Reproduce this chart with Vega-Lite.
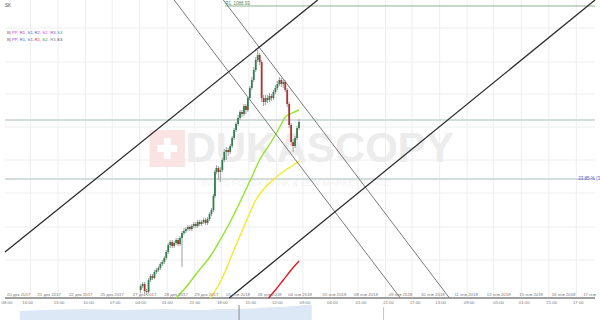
{
"$schema":"https://vega.github.io/schema/vega-lite/v6.json",
"width":600,"height":320,"autosize":{"type":"none"},"padding":0,"background":"#ffffff",
"config":{"view":{"stroke":null},"font":"Liberation Sans"},
"resolve":{"scale":{"color":"independent"}},
"datasets":{
"vgrid":[{"t":26},{"t":54},{"t":82},{"t":109},{"t":137},{"t":165},{"t":193},{"t":220},{"t":248},{"t":276},{"t":303},{"t":331},{"t":359},{"t":387},{"t":414},{"t":442},{"t":470},{"t":497},{"t":525},{"t":553},{"t":581}],
"hgrid":[{"v":292},{"v":258},{"v":226},{"v":193},{"v":160},{"v":127},{"v":93},{"v":60}],
"levels":[{"t":0,"t2":600,"v":200},{"t":0,"t2":600,"v":141}],
"r1":[{"t":224,"t2":600,"v":314}],
"logo":[{"t":147,"t2":183,"v":153,"v2":190}],
"cross":[{"t":155,"t2":175,"v":168,"v2":175},{"t":161.5,"t2":168.5,"v":161,"v2":182}],
"volume":[{"t":15,"v":9},{"t":40,"v":10},{"t":60,"v":10.5},{"t":80,"v":11},{"t":100,"v":10.5},{"t":120,"v":10},{"t":140,"v":10.5},{"t":160,"v":11},{"t":180,"v":10.5},{"t":200,"v":10},{"t":220,"v":11},{"t":238,"v":11},{"t":250,"v":11.5},{"t":265,"v":12.5},{"t":280,"v":13},{"t":295,"v":14},{"t":305,"v":15},{"t":312,"v":15.5}],
"vollines":[{"t":238,"v":0,"v2":15,"k":"a"},{"t":385,"v":0,"v2":13,"k":"b"}],
"ma":[
{"id":"MA1","t":174,"v":22},{"id":"MA1","t":185,"v":34},{"id":"MA1","t":196,"v":48},{"id":"MA1","t":209,"v":64},{"id":"MA1","t":220,"v":82},{"id":"MA1","t":230,"v":100},{"id":"MA1","t":240,"v":120},{"id":"MA1","t":250,"v":141},{"id":"MA1","t":260,"v":162},{"id":"MA1","t":270,"v":177},{"id":"MA1","t":280,"v":194},{"id":"MA1","t":285,"v":203},{"id":"MA1","t":290,"v":206},{"id":"MA1","t":299,"v":210},
{"id":"MA2","t":209,"v":22},{"id":"MA2","t":220,"v":40},{"id":"MA2","t":232,"v":68},{"id":"MA2","t":245,"v":98},{"id":"MA2","t":255,"v":120},{"id":"MA2","t":265,"v":133},{"id":"MA2","t":275,"v":142},{"id":"MA2","t":285,"v":150},{"id":"MA2","t":292,"v":154},{"id":"MA2","t":299,"v":159},
{"id":"MA3","t":268,"v":22},{"id":"MA3","t":275,"v":30},{"id":"MA3","t":283,"v":40},{"id":"MA3","t":291,"v":50},{"id":"MA3","t":299,"v":59}],
"channel":[{"id":"C","t":172,"v":320},{"id":"C","t":402,"v":22},{"id":"D","t":222,"v":320},{"id":"D","t":452,"v":22}],
"trend":[{"id":"A","t":0,"v":68},{"id":"A","t":318,"v":320},{"id":"B","t":228,"v":22},{"id":"B","t":600,"v":320}],
"candles":[
{"t":138,"o":30,"c":34,"h":36,"l":27,"d":"u"},{"t":140,"o":34,"c":36,"h":38,"l":32,"d":"u"},{"t":142,"o":36,"c":29,"h":38,"l":26,"d":"d"},{"t":144,"o":29,"c":28,"h":31,"l":25,"d":"d"},{"t":146,"o":28,"c":40,"h":42,"l":27,"d":"u"},{"t":148,"o":40,"c":44,"h":46,"l":38,"d":"u"},{"t":150,"o":44,"c":42,"h":46,"l":40,"d":"d"},{"t":152,"o":42,"c":48,"h":50,"l":41,"d":"u"},{"t":154,"o":48,"c":50,"h":52,"l":46,"d":"u"},{"t":156,"o":50,"c":52,"h":54,"l":48,"d":"u"},{"t":158,"o":52,"c":56,"h":58,"l":50,"d":"u"},{"t":160,"o":56,"c":58,"h":60,"l":54,"d":"u"},{"t":162,"o":58,"c":62,"h":64,"l":56,"d":"u"},{"t":164,"o":62,"c":68,"h":70,"l":60,"d":"u"},{"t":166,"o":68,"c":75,"h":77,"l":66,"d":"u"},{"t":168,"o":75,"c":78,"h":80,"l":72,"d":"u"},{"t":170,"o":78,"c":74,"h":80,"l":72,"d":"d"},{"t":172,"o":74,"c":77,"h":79,"l":72,"d":"u"},{"t":174,"o":77,"c":80,"h":82,"l":75,"d":"u"},{"t":176,"o":80,"c":76,"h":82,"l":74,"d":"d"},{"t":178,"o":76,"c":82,"h":84,"l":74,"d":"u"},{"t":180,"o":82,"c":87,"h":89,"l":53,"d":"u"},{"t":182,"o":87,"c":89,"h":92,"l":85,"d":"u"},{"t":184,"o":89,"c":91,"h":93,"l":87,"d":"u"},{"t":186,"o":91,"c":93,"h":95,"l":89,"d":"u"},{"t":188,"o":93,"c":91,"h":95,"l":89,"d":"d"},{"t":190,"o":91,"c":94,"h":96,"l":89,"d":"u"},{"t":192,"o":94,"c":96,"h":98,"l":92,"d":"u"},{"t":194,"o":96,"c":94,"h":98,"l":92,"d":"d"},{"t":196,"o":94,"c":98,"h":100,"l":92,"d":"u"},{"t":198,"o":98,"c":96,"h":100,"l":94,"d":"d"},{"t":200,"o":96,"c":98,"h":100,"l":94,"d":"u"},{"t":202,"o":98,"c":100,"h":102,"l":96,"d":"u"},{"t":204,"o":100,"c":97,"h":102,"l":95,"d":"d"},{"t":206,"o":97,"c":101,"h":103,"l":95,"d":"u"},{"t":208,"o":101,"c":106,"h":108,"l":99,"d":"u"},{"t":210,"o":106,"c":110,"h":112,"l":104,"d":"u"},{"t":212,"o":110,"c":124,"h":126,"l":108,"d":"u"},{"t":213.5,"o":124,"c":148,"h":150,"l":122,"d":"u"},{"t":215,"o":148,"c":152,"h":155,"l":146,"d":"u"},{"t":217,"o":152,"c":148,"h":154,"l":140,"d":"d"},{"t":219,"o":148,"c":150,"h":153,"l":138,"d":"u"},{"t":221,"o":150,"c":160,"h":162,"l":148,"d":"u"},{"t":223,"o":160,"c":168,"h":171,"l":158,"d":"u"},{"t":225,"o":168,"c":170,"h":173,"l":160,"d":"u"},{"t":227,"o":170,"c":168,"h":172,"l":164,"d":"d"},{"t":229,"o":168,"c":174,"h":176,"l":166,"d":"u"},{"t":231,"o":174,"c":182,"h":184,"l":172,"d":"u"},{"t":233,"o":182,"c":190,"h":192,"l":180,"d":"u"},{"t":235,"o":190,"c":196,"h":198,"l":188,"d":"u"},{"t":237,"o":196,"c":202,"h":205,"l":194,"d":"u"},{"t":239,"o":202,"c":208,"h":210,"l":200,"d":"u"},{"t":241,"o":208,"c":206,"h":210,"l":203,"d":"d"},{"t":243,"o":206,"c":214,"h":216,"l":204,"d":"u"},{"t":245,"o":214,"c":210,"h":216,"l":206,"d":"d"},{"t":247,"o":210,"c":222,"h":224,"l":208,"d":"u"},{"t":249,"o":222,"c":232,"h":234,"l":220,"d":"u"},{"t":251,"o":232,"c":240,"h":243,"l":230,"d":"u"},{"t":253,"o":240,"c":250,"h":253,"l":238,"d":"u"},{"t":255,"o":250,"c":260,"h":263,"l":248,"d":"u"},{"t":257,"o":260,"c":265,"h":270,"l":258,"d":"u"},{"t":259,"o":265,"c":258,"h":267,"l":255,"d":"d"},{"t":261,"o":258,"c":222,"h":260,"l":218,"d":"d"},{"t":263,"o":222,"c":218,"h":225,"l":214,"d":"d"},{"t":265,"o":218,"c":222,"h":225,"l":215,"d":"u"},{"t":267,"o":222,"c":220,"h":225,"l":217,"d":"d"},{"t":269,"o":220,"c":224,"h":227,"l":218,"d":"u"},{"t":271,"o":224,"c":222,"h":226,"l":219,"d":"d"},{"t":273,"o":222,"c":228,"h":230,"l":220,"d":"u"},{"t":275,"o":228,"c":232,"h":235,"l":226,"d":"u"},{"t":277,"o":232,"c":236,"h":239,"l":230,"d":"u"},{"t":279,"o":236,"c":240,"h":243,"l":234,"d":"u"},{"t":281,"o":240,"c":236,"h":242,"l":233,"d":"d"},{"t":283,"o":236,"c":238,"h":240,"l":232,"d":"u"},{"t":285,"o":238,"c":230,"h":240,"l":228,"d":"d"},{"t":287,"o":230,"c":216,"h":232,"l":213,"d":"d"},{"t":289,"o":216,"c":195,"h":218,"l":192,"d":"d"},{"t":291,"o":195,"c":178,"h":197,"l":174,"d":"d"},{"t":293,"o":178,"c":174,"h":181,"l":168,"d":"d"},{"t":295,"o":174,"c":182,"h":184,"l":172,"d":"u"},{"t":297,"o":182,"c":192,"h":194,"l":180,"d":"u"},{"t":299,"o":192,"c":198,"h":201,"l":190,"d":"u"}],
"dates":[{"t":2,"label":"20 дек 2017"},{"t":33,"label":"21 дек 2017"},{"t":65,"label":"22 дек 2017"},{"t":97,"label":"25 дек 2017"},{"t":130,"label":"27 дек 2017"},{"t":162,"label":"28 дек 2017"},{"t":193,"label":"29 дек 2017"},{"t":225,"label":"01 янв 2018"},{"t":257,"label":"03 янв 2018"},{"t":288,"label":"04 янв 2018"},{"t":323,"label":"05 янв 2018"},{"t":355,"label":"08 янв 2018"},{"t":390,"label":"09 янв 2018"},{"t":423,"label":"10 янв 2018"},{"t":457,"label":"11 янв 2018"},{"t":490,"label":"12 янв 2018"},{"t":523,"label":"15 янв 2018"},{"t":556,"label":"16 янв 2018"},{"t":588,"label":"17 янв"}],
"times":[{"t":2,"label":"08:00"},{"t":23,"label":"16:00"},{"t":55,"label":"13:00"},{"t":85,"label":"10:00"},{"t":112,"label":"07:00"},{"t":138,"label":"04:00"},{"t":165,"label":"01:00"},{"t":193,"label":"21:00"},{"t":221,"label":"18:00"},{"t":250,"label":"15:00"},{"t":277,"label":"12:00"},{"t":305,"label":"09:00"},{"t":333,"label":"06:00"},{"t":362,"label":"01:00"},{"t":390,"label":"21:00"},{"t":417,"label":"17:00"},{"t":443,"label":"13:00"},{"t":472,"label":"09:00"},{"t":502,"label":"05:00"},{"t":528,"label":"01:00"},{"t":556,"label":"21:00"},{"t":583,"label":"17:00"}],
"legend":[
{"t":2,"v":287,"token":"B)","k":"g"},{"t":7,"v":287,"token":"PP,","k":"m"},{"t":15,"v":287,"token":"R1,","k":"m2"},{"t":23,"v":287,"token":"S1,","k":"b"},{"t":30,"v":287,"token":"R2,","k":"b"},{"t":38,"v":287,"token":"S2,","k":"m"},{"t":46,"v":287,"token":"R3,","k":"p"},{"t":53,"v":287,"token":"S3","k":"t"},
{"t":2,"v":280,"token":"B)","k":"g"},{"t":7,"v":280,"token":"PP,","k":"p"},{"t":15,"v":280,"token":"R1,","k":"b"},{"t":23,"v":280,"token":"S1,","k":"b"},{"t":30,"v":280,"token":"R2,","k":"r"},{"t":38,"v":280,"token":"S2,","k":"gr"},{"t":46,"v":280,"token":"R3,","k":"g2"},{"t":53,"v":280,"token":"S3","k":"k"}],
"notes":[{"t":0,"v":314,"label":"SK","k":"title"},{"t":224,"v":316.5,"label":"R1, 1088.93","k":"r1"},{"t":583,"v":141,"label":"23.85 % (3","k":"pct"}]
},
"layer":[
{"data":{"name":"vgrid"},"mark":{"type":"rule","color":"#eeeeee","strokeWidth":1},
 "encoding":{"x":{"field":"t","type":"quantitative","scale":{"domain":[0,600],"nice":false,"zero":false},"axis":null},
  "y":{"datum":22,"type":"quantitative","scale":{"domain":[0,320],"nice":false,"zero":false},"axis":null},"y2":{"datum":320}}},
{"data":{"name":"hgrid"},"mark":{"type":"rule","color":"#eeeeee","strokeWidth":1},
 "encoding":{"x":{"datum":0,"type":"quantitative","scale":{"domain":[0,600],"nice":false,"zero":false},"axis":null},"x2":{"datum":600},
  "y":{"field":"v","type":"quantitative","scale":{"domain":[0,320],"nice":false,"zero":false},"axis":null}}},
{"data":{"name":"logo"},"mark":{"type":"rect","color":"#fae3e3"},
 "encoding":{"x":{"field":"t","type":"quantitative","scale":{"domain":[0,600],"nice":false,"zero":false},"axis":null},"x2":{"field":"t2"},
  "y":{"field":"v","type":"quantitative","scale":{"domain":[0,320],"nice":false,"zero":false},"axis":null},"y2":{"field":"v2"}}},
{"data":{"name":"cross"},"mark":{"type":"rect","color":"#ffffff"},
 "encoding":{"x":{"field":"t","type":"quantitative","scale":{"domain":[0,600],"nice":false,"zero":false},"axis":null},"x2":{"field":"t2"},
  "y":{"field":"v","type":"quantitative","scale":{"domain":[0,320],"nice":false,"zero":false},"axis":null},"y2":{"field":"v2"}}},
{"data":{"values":[{"t":320,"v":171,"label":"DUKASCOPY"}]},"mark":{"type":"text","font":"Liberation Sans","fontWeight":"bold","fontSize":42,"color":"#ececec","align":"center","baseline":"middle"},
 "encoding":{"x":{"field":"t","type":"quantitative","scale":{"domain":[0,600],"nice":false,"zero":false},"axis":null},
  "y":{"field":"v","type":"quantitative","scale":{"domain":[0,320],"nice":false,"zero":false},"axis":null},"text":{"field":"label"}}},
{"data":{"values":[{"t":295,"v":137,"label":"SWISS FOREX BANK & ECN MARKETPLACE"}]},"mark":{"type":"text","fontSize":9,"color":"#f2f2f2","align":"center","baseline":"middle","letterSpacing":1.5},
 "encoding":{"x":{"field":"t","type":"quantitative","scale":{"domain":[0,600],"nice":false,"zero":false},"axis":null},
  "y":{"field":"v","type":"quantitative","scale":{"domain":[0,320],"nice":false,"zero":false},"axis":null},"text":{"field":"label"}}},
{"data":{"name":"levels"},"mark":{"type":"rule","color":"#d4dcde","strokeWidth":2},
 "encoding":{"x":{"field":"t","type":"quantitative","scale":{"domain":[0,600],"nice":false,"zero":false},"axis":null},"x2":{"field":"t2"},
  "y":{"field":"v","type":"quantitative","scale":{"domain":[0,320],"nice":false,"zero":false},"axis":null}}},
{"data":{"name":"r1"},"mark":{"type":"rule","color":"#8fb38f","strokeWidth":1},
 "encoding":{"x":{"field":"t","type":"quantitative","scale":{"domain":[0,600],"nice":false,"zero":false},"axis":null},"x2":{"field":"t2"},
  "y":{"field":"v","type":"quantitative","scale":{"domain":[0,320],"nice":false,"zero":false},"axis":null}}},
{"data":{"name":"volume"},"mark":{"type":"area","color":"#dde8f6","opacity":1},
 "encoding":{"x":{"field":"t","type":"quantitative","scale":{"domain":[0,600],"nice":false,"zero":false},"axis":null},
  "y":{"field":"v","type":"quantitative","scale":{"domain":[0,320],"nice":false,"zero":false},"axis":null},"y2":{"datum":0}}},
{"data":{"name":"vollines"},"mark":{"type":"rule","strokeWidth":1},
 "encoding":{"x":{"field":"t","type":"quantitative","scale":{"domain":[0,600],"nice":false,"zero":false},"axis":null},
  "y":{"field":"v","type":"quantitative","scale":{"domain":[0,320],"nice":false,"zero":false},"axis":null},"y2":{"field":"v2"},
  "color":{"field":"k","type":"nominal","scale":{"domain":["a","b"],"range":["#8a8a8a","#c4c4c4"]},"legend":null}}},
{"data":{"values":[{"t":0,"t2":600,"v":22}]},"mark":{"type":"rule","color":"#a0a0a0","strokeWidth":2},
 "encoding":{"x":{"field":"t","type":"quantitative","scale":{"domain":[0,600],"nice":false,"zero":false},"axis":null},"x2":{"field":"t2"},
  "y":{"field":"v","type":"quantitative","scale":{"domain":[0,320],"nice":false,"zero":false},"axis":null}}},
{"data":{"name":"ma"},"mark":{"type":"line","strokeWidth":1.4,"interpolate":"monotone"},
 "encoding":{"x":{"field":"t","type":"quantitative","scale":{"domain":[0,600],"nice":false,"zero":false},"axis":null},
  "y":{"field":"v","type":"quantitative","scale":{"domain":[0,320],"nice":false,"zero":false},"axis":null},
  "color":{"field":"id","type":"nominal","scale":{"domain":["MA1","MA2","MA3"],"range":["#8fe62e","#f3ea2c","#e3191c"]},"legend":null}}},
{"data":{"name":"channel"},"mark":{"type":"line","strokeWidth":1,"color":"#7a7a7a"},
 "encoding":{"x":{"field":"t","type":"quantitative","scale":{"domain":[0,600],"nice":false,"zero":false},"axis":null},
  "y":{"field":"v","type":"quantitative","scale":{"domain":[0,320],"nice":false,"zero":false},"axis":null},"detail":{"field":"id"}}},
{"data":{"name":"trend"},"mark":{"type":"line","strokeWidth":1.3,"color":"#2b2b2b"},
 "encoding":{"x":{"field":"t","type":"quantitative","scale":{"domain":[0,600],"nice":false,"zero":false},"axis":null},
  "y":{"field":"v","type":"quantitative","scale":{"domain":[0,320],"nice":false,"zero":false},"axis":null},"detail":{"field":"id"}}},
{"data":{"name":"candles"},"mark":{"type":"rule","color":"#a0a0a0","strokeWidth":1},
 "encoding":{"x":{"field":"t","type":"quantitative","scale":{"domain":[0,600],"nice":false,"zero":false},"axis":null},
  "y":{"field":"l","type":"quantitative","scale":{"domain":[0,320],"nice":false,"zero":false},"axis":null},"y2":{"field":"h"}}},
{"data":{"name":"candles"},"mark":{"type":"bar","width":1.8},
 "encoding":{"x":{"field":"t","type":"quantitative","scale":{"domain":[0,600],"nice":false,"zero":false},"axis":null},
  "y":{"field":"o","type":"quantitative","scale":{"domain":[0,320],"nice":false,"zero":false},"axis":null},"y2":{"field":"c"},
  "color":{"field":"d","type":"nominal","scale":{"domain":["u","d"],"range":["#2f8050","#b23030"]},"legend":null}}},
{"data":{"name":"dates"},"mark":{"type":"text","fontSize":4.3,"color":"#777777","align":"left","baseline":"middle"},
 "encoding":{"x":{"field":"t","type":"quantitative","scale":{"domain":[0,600],"nice":false,"zero":false},"axis":null},
  "y":{"datum":25,"type":"quantitative","scale":{"domain":[0,320],"nice":false,"zero":false},"axis":null},"text":{"field":"label"}}},
{"data":{"name":"times"},"mark":{"type":"text","fontSize":4.3,"color":"#777777","align":"center","baseline":"middle"},
 "encoding":{"x":{"field":"t","type":"quantitative","scale":{"domain":[0,600],"nice":false,"zero":false},"axis":null},
  "y":{"datum":17,"type":"quantitative","scale":{"domain":[0,320],"nice":false,"zero":false},"axis":null},"text":{"field":"label"}}},
{"data":{"name":"legend"},"mark":{"type":"text","fontSize":4.2,"align":"left","baseline":"middle"},
 "encoding":{"x":{"field":"t","type":"quantitative","scale":{"domain":[0,600],"nice":false,"zero":false},"axis":null},
  "y":{"field":"v","type":"quantitative","scale":{"domain":[0,320],"nice":false,"zero":false},"axis":null},"text":{"field":"token"},
  "color":{"field":"k","type":"nominal","scale":{"domain":["g","m","m2","b","p","t","r","gr","g2","k"],"range":["#666666","#d03cd0","#c0308a","#5a5ad0","#8a4ad0","#2aa0a0","#e03050","#30a040","#7a8aa0","#444444"]},"legend":null}}},
{"data":{"name":"notes"},"mark":{"type":"text","fontSize":4.5,"align":"left","baseline":"middle"},
 "encoding":{"x":{"field":"t","type":"quantitative","scale":{"domain":[0,600],"nice":false,"zero":false},"axis":null},
  "y":{"field":"v","type":"quantitative","scale":{"domain":[0,320],"nice":false,"zero":false},"axis":null},"text":{"field":"label"},
  "color":{"field":"k","type":"nominal","scale":{"domain":["title","r1","pct"],"range":["#444444","#5a8a5a","#5a5ac8"]},"legend":null}}}
]
}
